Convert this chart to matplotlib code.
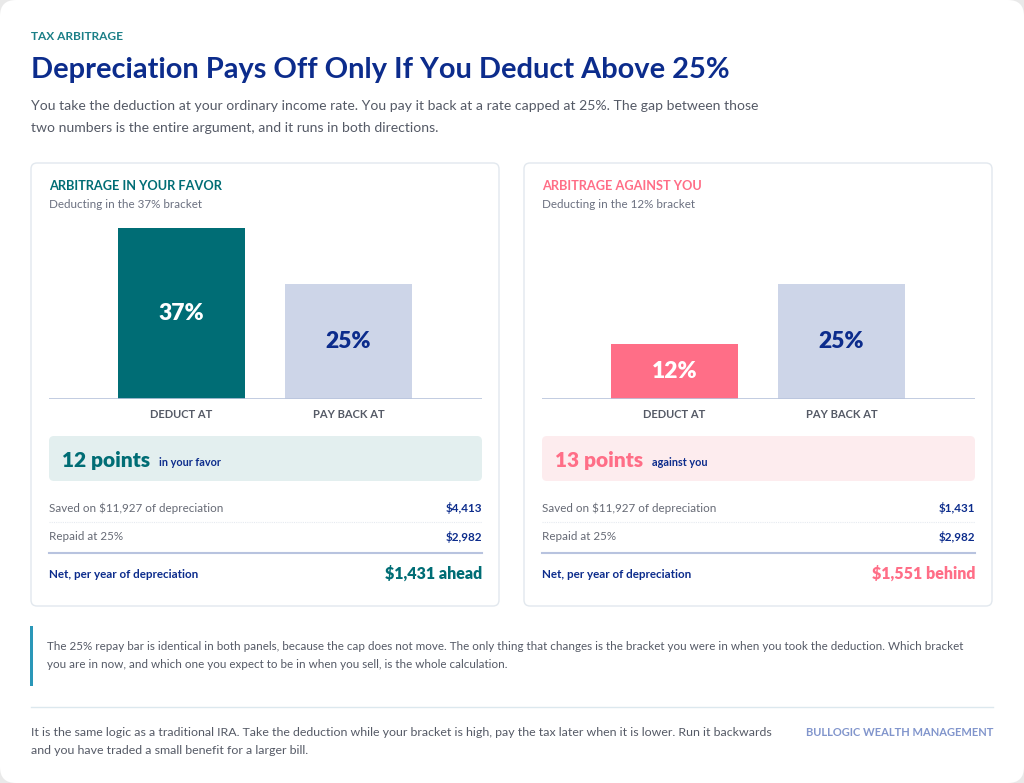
import matplotlib
matplotlib.use("Agg")
import matplotlib.pyplot as plt
from matplotlib.patches import FancyBboxPatch, Rectangle

plt.rcParams['font.family'] = ['Lato', 'DejaVu Sans']

# data
categories = ['DEDUCT AT', 'PAY BACK AT']
favor_rates = [37, 25]
against_rates = [12, 25]
panel_titles = ['ARBITRAGE IN YOUR FAVOR', 'ARBITRAGE AGAINST YOU']
panel_subs = ['Deducting in the 37% bracket', 'Deducting in the 12% bracket']
gap_points = ['12 points', '13 points']
gap_words = ['in your favor', 'against you']
saved = ['$4,413', '$1,431']
repaid = ['$2,982', '$2,982']
net = ['$1,431 ahead', '$1,551 behind']

TEAL = '#006d75'
PINK = '#ff6e87'
NAVY = '#0c2c8c'
LIGHT = '#cdd5e8'
GRAY = '#555a66'
W, H = 1024, 783

fig = plt.figure(figsize=(W / 100, H / 100), dpi=100)
fig.patch.set_facecolor('#e9e9e9')
bg = fig.add_axes([0, 0, 1, 1])
bg.set_xlim(0, W)
bg.set_ylim(H, 0)
bg.axis('off')
bg.add_patch(FancyBboxPatch((0, 0), W, H, boxstyle='round,pad=0,rounding_size=16',
                            fc='white', ec='none'))

bg.text(31, 37, 'TAX ARBITRAGE', color='#1b7f87', fontsize=8.6, fontweight='bold', va='center')
bg.text(31, 70, 'Depreciation Pays Off Only If You Deduct Above 25%', color=NAVY,
        fontsize=20.9, fontweight='bold', va='center')
bg.text(31, 106, 'You take the deduction at your ordinary income rate. You pay it back at a rate capped at 25%. '
        'The gap between those', color=GRAY, fontsize=10.1, va='center')
bg.text(31, 128, 'two numbers is the entire argument, and it runs in both directions.', color=GRAY,
        fontsize=10.1, va='center')

panels = [(31, favor_rates, TEAL, '#e3efef'),
          (524, against_rates, PINK, '#fdecee')]

for i, (x0, rates, accent, soft) in enumerate(panels):
    bg.add_patch(FancyBboxPatch((x0, 163), 468, 443, boxstyle='round,pad=0,rounding_size=6',
                                fc='white', ec='#e2e8ee', lw=1))
    lx = x0 + 18
    rx = x0 + 451
    bg.text(lx, 186, panel_titles[i], color=accent, fontsize=9.2, fontweight='bold', va='center')
    bg.text(lx, 204, panel_subs[i], color='#6b7080', fontsize=8.4, va='center')

    # bar chart
    ax = fig.add_axes([lx / W, 1 - 399 / H, 433 / W, 200 / H])
    colors = [accent, LIGHT]
    labc = ['white', NAVY]
    bars = ax.bar(range(len(rates)), rates, width=0.76, color=colors)
    ax.set_xlim(-0.793, 1.799)
    ax.set_ylim(0, 200 / 4.62)
    ax.axis('off')
    ax.axhline(0, color='#b8c4dc', lw=1.2)
    for j, b in enumerate(bars):
        ax.text(b.get_x() + b.get_width() / 2, rates[j] / 2, f'{rates[j]}%', ha='center', va='center',
                color=labc[j], fontsize=16.5, fontweight='heavy')
        ax.text(b.get_x() + b.get_width() / 2, -15 / 4.62, categories[j], ha='center', va='center',
                color=GRAY, fontsize=8, fontweight='bold', clip_on=False)

    # gap box
    bg.add_patch(FancyBboxPatch((lx, 436), 433, 45, boxstyle='round,pad=0,rounding_size=5',
                                fc=soft, ec='none'))
    t = bg.text(lx + 13, 460, gap_points[i], color=accent, fontsize=15, fontweight='heavy', va='center')
    fig.canvas.draw()
    bb = t.get_window_extent()
    bg.text(bb.x1 + 9, 463, gap_words[i], color=NAVY, fontsize=7.8, fontweight='bold', va='center')

    # rows
    bg.text(lx, 508, 'Saved on $11,927 of depreciation', color='#666a75', fontsize=8.4, va='center')
    bg.text(rx, 508, saved[i], color=NAVY, fontsize=8.4, fontweight='bold', va='center', ha='right')
    bg.plot([lx, rx], [522, 522], color='#e6eaf0', lw=0.8, ls=(0, (1, 1)))
    bg.text(lx, 537, 'Repaid at 25%', color='#666a75', fontsize=8.4, va='center')
    bg.text(rx, 537, repaid[i], color=NAVY, fontsize=8.4, fontweight='bold', va='center', ha='right')
    bg.plot([lx, rx], [553, 553], color='#b8c3df', lw=1.5)
    bg.text(lx, 575, 'Net, per year of depreciation', color=NAVY, fontsize=8.4, fontweight='bold', va='center')
    bg.text(rx, 574, net[i], color=accent, fontsize=11.5, fontweight='heavy', va='center', ha='right')

# note
bg.add_patch(Rectangle((30, 626), 2.5, 60, fc='#2a97b8', ec='none'))
bg.text(47, 647, 'The 25% repay bar is identical in both panels, because the cap does not move. The only thing '
        'that changes is the bracket you were in when you took the deduction. Which bracket',
        color=GRAY, fontsize=8.35, va='center')
bg.text(47, 665, 'you are in now, and which one you expect to be in when you sell, is the whole calculation.',
        color=GRAY, fontsize=8.35, va='center')

bg.plot([31, 993], [707, 707], color='#dce8ee', lw=1)
bg.text(31, 732, 'It is the same logic as a traditional IRA. Take the deduction while your bracket is high, '
        'pay the tax later when it is lower. Run it backwards', color=GRAY, fontsize=8.9, va='center')
bg.text(31, 751, 'and you have traded a small benefit for a larger bill.', color=GRAY, fontsize=8.9, va='center')
bg.text(993, 733, 'BULLOGIC WEALTH MANAGEMENT', color='#8195cc', fontsize=8.0, fontweight='bold',
        va='center', ha='right')

fig.savefig('out.png', dpi=100, facecolor=fig.get_facecolor())
